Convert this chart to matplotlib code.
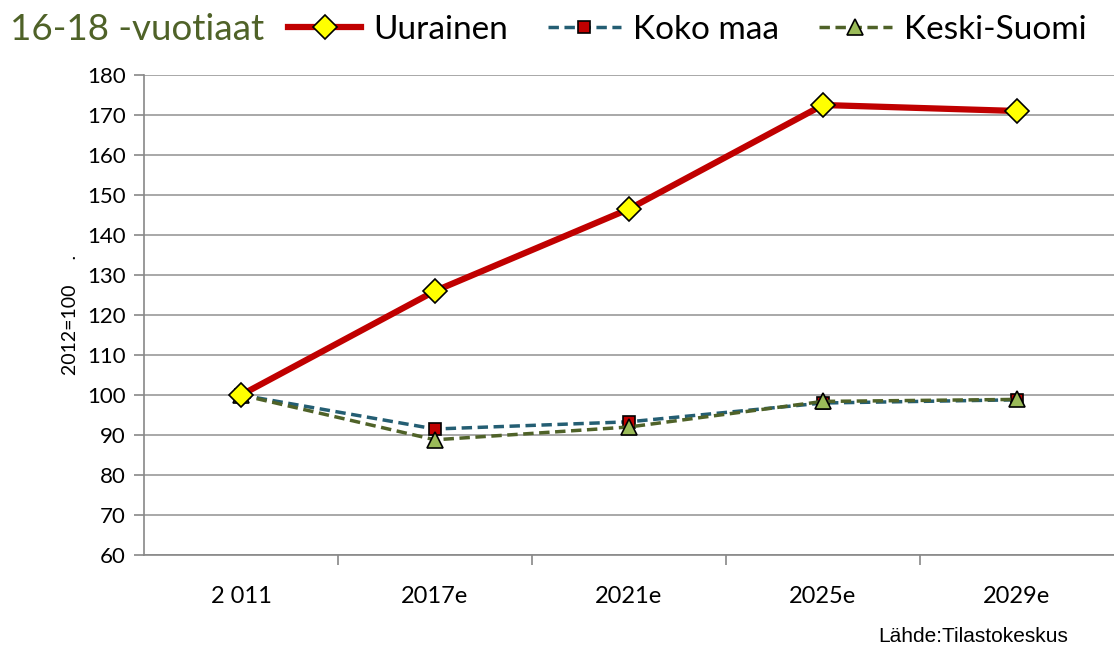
import matplotlib
matplotlib.use("Agg")
import matplotlib.pyplot as plt

# data
years = ["2 011", "2017e", "2021e", "2025e", "2029e"]
uurainen = [100, 126, 146.5, 172.5, 171]
koko_maa = [100, 91.5, 93.3, 98.0, 98.8]
keski_suomi = [100, 88.8, 92.0, 98.4, 98.9]

yticks = list(range(60, 181, 10))

plt.rcParams['font.family'] = ['Lato', 'DejaVu Sans']

fig = plt.figure(figsize=(11.14, 6.5), dpi=100)
ax = fig.add_axes([144 / 1114, 1 - 555 / 650, (1114 - 144) / 1114, 480 / 650])

x = list(range(len(years)))

ax.plot(x, uurainen, color="#C00000", lw=4.5, marker="D", ms=12,
        mfc="#FFFF00", mec="black", mew=1.2, label="Uurainen", zorder=4)
ax.plot(x, koko_maa, color="#245E73", lw=2.5, ls=(0, (3, 1.6)), marker="s", ms=8.5,
        mfc="#C00000", mec="black", mew=1.2, label="Koko maa", zorder=3)
ax.plot(x, keski_suomi, color="#4F6228", lw=2.5, ls=(0, (3, 1.6)), marker="^", ms=12,
        mfc="#9BBB59", mec="black", mew=1.2, label="Keski-Suomi", zorder=3)

ax.set_xlim(-0.5, len(years) - 0.5)
ax.set_ylim(60, 180)
ax.set_yticks(yticks)
ax.set_xticks(x)
ax.set_xticklabels(years)
ax.set_xticks([i + 0.5 for i in x[:-1]], minor=True)
ax.tick_params(axis="x", which="major", length=0, pad=22, labelsize=17)
ax.tick_params(axis="x", which="minor", length=7, color="#888888", width=1.2)
ax.tick_params(axis="y", length=7, color="#888888", width=1.2, labelsize=16, pad=6)
ax.grid(axis="y", color="#999999", lw=1.2)
ax.set_axisbelow(True)

for side in ["top", "right"]:
    ax.spines[side].set_visible(False)
for side in ["left", "bottom"]:
    ax.spines[side].set_color("#888888")
    ax.spines[side].set_linewidth(1.2)

ax.set_ylabel("2012=100     .", fontsize=14, labelpad=6)

fig.text(10 / 1114, 1 - 30 / 650, "16-18 -vuotiaat", color="#4F6228",
         fontsize=26.5, va="center", ha="left")
fig.legend(loc="center left", bbox_to_anchor=(288 / 1114, 1 - 30 / 650), ncol=3,
           frameon=False, fontsize=24, handlelength=2.2, columnspacing=1.2,
           handletextpad=0.35, borderaxespad=0, borderpad=0)

fig.text(1068 / 1114, 1 - 637 / 650, "Lähde:Tilastokeskus", fontsize=15,
         family=["Liberation Sans", "DejaVu Sans"], ha="right", va="center")

fig.savefig("out.png", dpi=100)
